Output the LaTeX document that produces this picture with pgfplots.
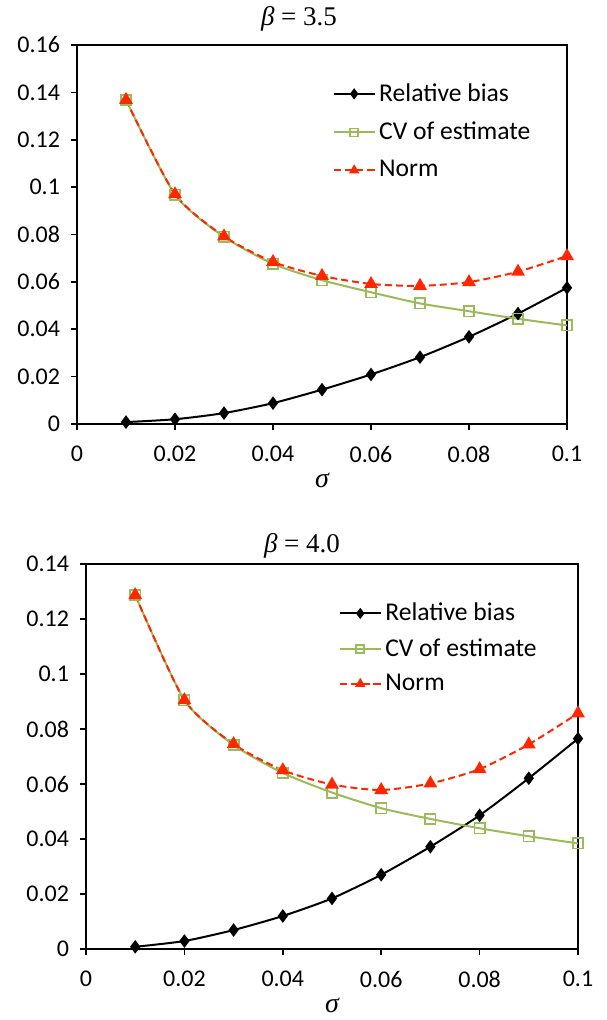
\documentclass[border=0pt]{standalone}
\usepackage{fontspec}
\setmainfont{Liberation Serif}
\newfontfamily\carlito{Carlito}
\usepackage{pgfplots}
\pgfplotsset{compat=1.18}
\definecolor{cvgreen}{RGB}{155,187,89}
\definecolor{normred}{RGB}{255,38,0}
\pgfplotsset{
  mystyle/.style={
    scale only axis,
    xmin=0, xmax=0.1,
    xtick={0,0.02,0.04,0.06,0.08,0.1},
    tick align=outside,
    xtick pos=bottom, ytick pos=left,
    major tick length=3pt,
    every tick/.style={black, line width=0.8pt},
    axis line style={line width=0.8pt},
    scaled ticks=false,
    /pgf/number format/fixed,
    /pgf/number format/precision=2,
    /pgf/number format/assume math mode=true,
    tick label style={font=\carlito\fontsize{12}{14}\selectfont},
    yticklabel style={xshift=-2pt},
    xticklabel style={yshift=-4.5pt},
    legend style={draw=none, fill=none, font=\carlito\fontsize{12.8}{14}\selectfont, inner sep=0pt},
    legend cell align=left,
    legend image code/.code={\draw[mark repeat=2,mark phase=2,##1] plot coordinates {(0pt,0pt) (10pt,0pt) (20pt,0pt)};},
    legend image post style={mark size=2pt},
    xlabel={\itshape σ},
    xlabel style={font=\fontsize{14}{16}\selectfont, yshift=1.5pt},
    title style={font=\fontsize{13.5}{16}\selectfont},
  },
  biasstyle/.style={black, line width=1pt, smooth, tension=0.4, mark=diamond*, mark size=2.6pt, mark options={solid, fill=black}},
  cvstyle/.style={cvgreen, line width=1pt, smooth, tension=0.4, mark=square, mark size=2.6pt, mark options={solid, line width=0.8pt}},
  normstyle/.style={normred, line width=1pt, dash pattern=on 3.5pt off 2pt, smooth, tension=0.4, mark=triangle*, mark size=3pt, mark options={solid, fill=normred}},
}
\begin{document}
\begin{tikzpicture}
\path[use as bounding box] (0,0) rectangle (303pt,510pt);
\begin{axis}[mystyle,
  at={(38.5pt,298pt)}, anchor=south west,
  width=245pt, height=189.5pt,
  ymin=0, ymax=0.16,
  ytick={0,0.02,0.04,0.06,0.08,0.1,0.12,0.14,0.16},
  title={{\itshape β} = 3.5},
  title style={at={(0.453,1)}, yshift=-2.5pt},
  legend style={at={(0.522,0.91)}, anchor=north west, row sep=4.9pt},
]
\addplot[biasstyle] coordinates {(0.01,0.0008)(0.02,0.002)(0.03,0.0046)(0.04,0.0088)(0.05,0.0145)(0.06,0.0209)(0.07,0.0282)(0.08,0.0368)(0.09,0.0466)(0.1,0.0575)};
\addlegendentry{Relative bias}
\addplot[cvstyle] coordinates {(0.01,0.1368)(0.02,0.0968)(0.03,0.0790)(0.04,0.0676)(0.05,0.0607)(0.06,0.0556)(0.07,0.0509)(0.08,0.0476)(0.09,0.0444)(0.1,0.0416)};
\addlegendentry{CV of estimate}
\addplot[normstyle] coordinates {(0.01,0.1368)(0.02,0.0970)(0.03,0.0792)(0.04,0.0684)(0.05,0.0625)(0.06,0.0591)(0.07,0.0583)(0.08,0.0599)(0.09,0.0643)(0.1,0.0709)};
\addlegendentry{Norm}
\end{axis}
\begin{axis}[mystyle,
  at={(43pt,35.5pt)}, anchor=south west,
  width=246pt, height=192.5pt,
  ymin=0, ymax=0.14,
  ytick={0,0.02,0.04,0.06,0.08,0.1,0.12,0.14},
  title={{\itshape β} = 4.0},
  title style={at={(0.439,1)}, yshift=-6.5pt},
  legend style={at={(0.514,0.91)}, anchor=north west, row sep=3.4pt},
]
\addplot[biasstyle] coordinates {(0.01,0.0008)(0.02,0.0029)(0.03,0.0069)(0.04,0.0120)(0.05,0.0184)(0.06,0.0270)(0.07,0.0372)(0.08,0.0486)(0.09,0.0621)(0.1,0.0765)};
\addlegendentry{Relative bias}
\addplot[cvstyle] coordinates {(0.01,0.1287)(0.02,0.0905)(0.03,0.0742)(0.04,0.0640)(0.05,0.0569)(0.06,0.0512)(0.07,0.0473)(0.08,0.0439)(0.09,0.0410)(0.1,0.0384)};
\addlegendentry{CV of estimate}
\addplot[normstyle] coordinates {(0.01,0.1287)(0.02,0.0905)(0.03,0.0745)(0.04,0.0650)(0.05,0.0598)(0.06,0.0578)(0.07,0.0602)(0.08,0.0654)(0.09,0.0744)(0.1,0.0857)};
\addlegendentry{Norm}
\end{axis}
\end{tikzpicture}
\end{document}
